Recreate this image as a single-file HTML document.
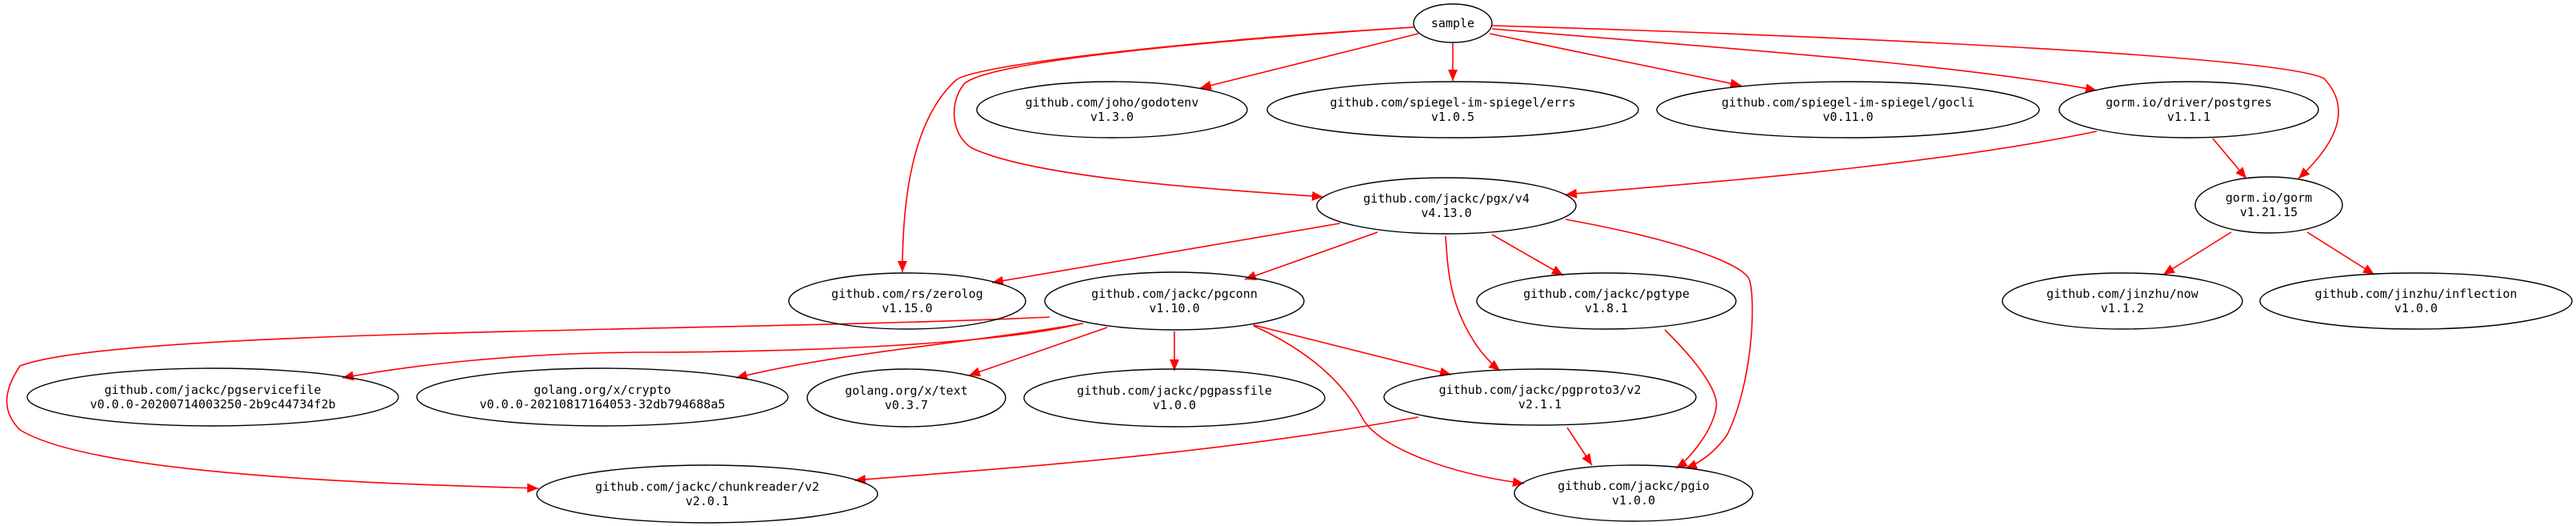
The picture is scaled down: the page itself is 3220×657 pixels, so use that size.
<!DOCTYPE html>
<html><head><meta charset="utf-8"><style>
html,body{margin:0;padding:0;background:#fff}
svg{display:block}
text{font-family:"DejaVu Sans Mono","Liberation Mono",monospace;font-size:15px;fill:#000;text-anchor:middle}
ellipse{fill:none;stroke:#000;stroke-width:1.4}
path.e{fill:none;stroke:#f00;stroke-width:1.6}
</style></head><body>
<svg width="3220" height="657" viewBox="0 0 3220 657" xmlns="http://www.w3.org/2000/svg">
<defs>
<marker id="a" markerUnits="userSpaceOnUse" markerWidth="16" markerHeight="14" refX="14" refY="6" orient="auto">
<path d="M0,0 L14,6 L0,12 Z" fill="#f00"/>
</marker>
</defs>
<g marker-end="url(#a)">
<path class="e" d="M1767,34 C1500,50 1220,80 1195,100 C1140,150 1128,250 1128,340"/>
<path class="e" d="M1767,34 C1450,55 1230,80 1205,105 C1185,130 1190,170 1215,185 C1300,225 1550,238 1654,246"/>
<path class="e" d="M1773,42 L1500,110"/>
<path class="e" d="M1816,54 L1816,101"/>
<path class="e" d="M1862,42 L2177,107"/>
<path class="e" d="M1865,36 C2150,60 2450,80 2621,113"/>
<path class="e" d="M1865,32 C2300,45 2850,70 2905,98 C2935,130 2930,170 2873,223"/>
<path class="e" d="M2621,164 C2400,210 2100,230 1957,243"/>
<path class="e" d="M2766,173 L2808,223"/>
<path class="e" d="M1675,279 L1240,353"/>
<path class="e" d="M1722,290 L1556,349"/>
<path class="e" d="M1865,293 L1954,344"/>
<path class="e" d="M1807,295 C1810,340 1812,380 1844,429 C1855,445 1865,455 1875,463"/>
<path class="e" d="M1957,274 C2100,300 2180,330 2187,350 C2195,380 2190,480 2159,543 C2140,570 2120,580 2107,585"/>
<path class="e" d="M2081,412 C2120,450 2150,490 2145,510 C2140,540 2110,575 2095,585"/>
<path class="e" d="M1567,406 L1814,468"/>
<path class="e" d="M1567,407 C1640,440 1680,480 1703,522 C1720,555 1800,590 1905,604"/>
<path class="e" d="M1468,414 L1468,463"/>
<path class="e" d="M1384,409 L1211,469"/>
<path class="e" d="M1354,404 C1200,430 1050,440 920,472"/>
<path class="e" d="M1352,404 C1250,430 1000,440 800,440 C650,441 520,455 428,472"/>
<path class="e" d="M1312,396 C900,415 150,410 25,457 C3,490 3,515 25,537 C120,595 500,605 673,610"/>
<path class="e" d="M1773,521 C1500,570 1250,585 1068,600"/>
<path class="e" d="M1959,534 L1990,581"/>
<path class="e" d="M2789,290 L2704,343"/>
<path class="e" d="M2884,290 L2968,343"/>
</g>
<ellipse cx="1816" cy="29" rx="49" ry="24"/><text x="1816" y="34">sample</text>
<ellipse cx="1390" cy="137" rx="169" ry="35"/><text x="1390" y="133">github.com/joho/godotenv</text><text x="1390" y="151">v1.3.0</text>
<ellipse cx="1816" cy="137" rx="232" ry="35"/><text x="1816" y="133">github.com/spiegel-im-spiegel/errs</text><text x="1816" y="151">v1.0.5</text>
<ellipse cx="2310" cy="137" rx="239" ry="35"/><text x="2310" y="133">github.com/spiegel-im-spiegel/gocli</text><text x="2310" y="151">v0.11.0</text>
<ellipse cx="2736" cy="137" rx="162" ry="35"/><text x="2736" y="133">gorm.io/driver/postgres</text><text x="2736" y="151">v1.1.1</text>
<ellipse cx="1808" cy="257" rx="162" ry="35"/><text x="1808" y="253">github.com/jackc/pgx/v4</text><text x="1808" y="271">v4.13.0</text>
<ellipse cx="2836" cy="256" rx="92" ry="35"/><text x="2836" y="252">gorm.io/gorm</text><text x="2836" y="270">v1.21.15</text>
<ellipse cx="1134" cy="376" rx="148" ry="35"/><text x="1134" y="372">github.com/rs/zerolog</text><text x="1134" y="390">v1.15.0</text>
<ellipse cx="1468" cy="376" rx="162" ry="36"/><text x="1468" y="372">github.com/jackc/pgconn</text><text x="1468" y="390">v1.10.0</text>
<ellipse cx="2008" cy="376" rx="162" ry="35"/><text x="2008" y="372">github.com/jackc/pgtype</text><text x="2008" y="390">v1.8.1</text>
<ellipse cx="2653" cy="376" rx="150" ry="35"/><text x="2653" y="372">github.com/jinzhu/now</text><text x="2653" y="390">v1.1.2</text>
<ellipse cx="3020" cy="376" rx="195" ry="35"/><text x="3020" y="372">github.com/jinzhu/inflection</text><text x="3020" y="390">v1.0.0</text>
<ellipse cx="266" cy="496" rx="232" ry="36"/><text x="266" y="492">github.com/jackc/pgservicefile</text><text x="266" y="510">v0.0.0-20200714003250-2b9c44734f2b</text>
<ellipse cx="753" cy="496" rx="232" ry="36"/><text x="753" y="492">golang.org/x/crypto</text><text x="753" y="510">v0.0.0-20210817164053-32db794688a5</text>
<ellipse cx="1133" cy="497" rx="124" ry="36"/><text x="1133" y="493">golang.org/x/text</text><text x="1133" y="511">v0.3.7</text>
<ellipse cx="1468" cy="497" rx="188" ry="36"/><text x="1468" y="493">github.com/jackc/pgpassfile</text><text x="1468" y="511">v1.0.0</text>
<ellipse cx="1925" cy="496" rx="195" ry="35"/><text x="1925" y="492">github.com/jackc/pgproto3/v2</text><text x="1925" y="510">v2.1.1</text>
<ellipse cx="884" cy="617" rx="213" ry="36"/><text x="884" y="613">github.com/jackc/chunkreader/v2</text><text x="884" y="631">v2.0.1</text>
<ellipse cx="2042" cy="616" rx="149" ry="35"/><text x="2042" y="612">github.com/jackc/pgio</text><text x="2042" y="630">v1.0.0</text>
</svg>
</body></html>
